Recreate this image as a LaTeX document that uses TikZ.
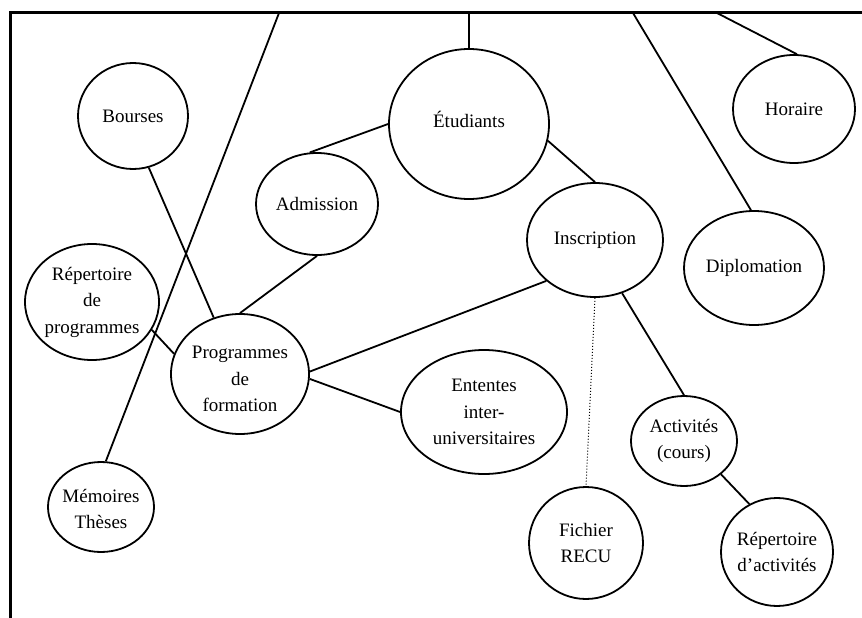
\documentclass[tikz,border=0pt]{standalone}
\usepackage{fontspec}
\setmainfont{Liberation Serif}
\usetikzlibrary{shapes.geometric}

\tikzset{
  lbl/.style={inner sep=0pt, align=center, font=\fontsize{19}{26.5}\selectfont},
  bubs/.style n args={4}{ellipse, draw, line width=1.8pt, inner sep=0pt,
    minimum width=#1, minimum height=#2, label={[lbl, yshift=#4]center:#3}},
  bub/.style n args={3}{bubs={#1}{#2}{#3}{0pt}},
  link/.style={line width=1.8pt},
  weak/.style={line width=1pt, dotted},
  frame/.style={line width=3pt}
}

\begin{document}
\begin{tikzpicture}[x=1pt, y=-1pt]
  \useasboundingbox (0,0) rectangle (862,618);

  % open frame: left side and top side
  \draw[frame] (10,618) -- (10,13) -- (862,13);

  % points on the top side where links leave the frame
  \coordinate (fA) at (279,13);
  \coordinate (fB) at (469,13);
  \coordinate (fC) at (633,13);
  \coordinate (fD) at (717,13);

  % entities
  \node[bub={110}{106}{Bourses}] (bou) at (133,116) {};
  \node[bubs={160}{150}{Étudiants}{5pt}] (etu) at (469,124) {};
  \node[bub={122}{108}{Horaire}] (hor) at (794,109) {};
  \node[bub={122}{102}{Admission}] (adm) at (317,204) {};
  \node[bub={136}{114}{Inscription}] (ins) at (595,240) {};
  \node[bub={140}{114}{Diplomation}] (dip) at (754,268) {};
  \node[bub={134}{116}{Répertoire\\de\\programmes}] (rep) at (92,302) {};
  \node[bubs={138}{120}{Programmes\\de\\formation}{-5pt}] (prog) at (240,374) {};
  \node[bub={166}{124}{Ententes\\inter-\\universitaires}] (ent) at (484,412) {};
  \node[bubs={106}{90}{Mémoires\\Thèses}{-2pt}] (mem) at (101,507) {};
  \node[bub={106}{90}{Activités\\(cours)}] (act) at (684,441) {};
  \node[bub={114}{112}{Fichier\\RECU}] (fic) at (586,543) {};
  \node[bub={112}{108}{Répertoire\\d’activités}] (ract) at (777,552) {};

  % links to the frame
  \draw[link] (fA) -- (mem.84);
  \draw[link] (fB) -- (etu.north);
  \draw[link] (fC) -- (dip.93);
  \draw[link] (fD) -- (hor.87);

  % links between entities
  \draw[link] (adm.98) -- (etu.west);
  \draw[link] (etu.-12) -- (ins.north);
  \draw[link] (adm.south) -- (prog.north);
  \draw[link] (bou.-73) -- (prog.115);
  \draw[link] (rep.-25) -- (prog.163);
  \draw[link] (prog.2) -- (ins.220);
  \draw[link] (prog.-4) -- (ent.west);
  \draw[weak] (ins.south) -- (fic.north);
  \draw[link] (ins.-63) -- (act.north);
  \draw[link] (act.-42) -- (ract.120);
\end{tikzpicture}
\end{document}
